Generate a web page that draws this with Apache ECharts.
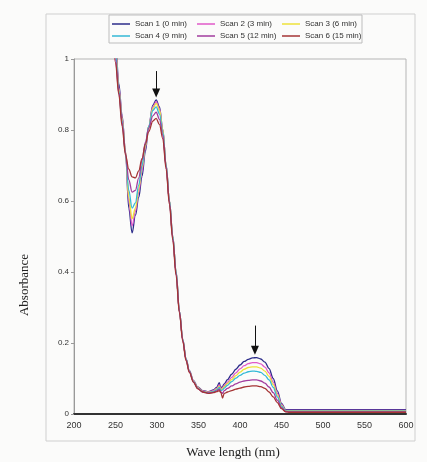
<!DOCTYPE html>
<html>
<head>
<meta charset="utf-8">
<script src="https://cdn.jsdelivr.net/npm/echarts@6/dist/echarts.min.js"></script>
<style>
html,body{margin:0;padding:0;background:#fbfbfa;}
#chart{width:427px;height:462px;}
</style>
</head>
<body>
<div id="chart"></div>
<script>
// Wavelengths (nm)
const wavelengths = [245,250,254,258,262,266,270,274,278,282,286,290,295,299,303,307,311,315,319,323,327,331,335,339,344,349,355,362,368,372,375,377,379,381,385,390,395,400,405,410,415,420,425,430,435,440,445,450,455,460,500,550,600];

const scanNames = ['Scan 1 (0 min)','Scan 2 (3 min)','Scan 3 (6 min)','Scan 4 (9 min)','Scan 5 (12 min)','Scan 6 (15 min)'];

const scan1 = [1.30,1.05,0.93,0.84,0.74,0.58,0.51,0.56,0.61,0.67,0.74,0.81,0.87,0.885,0.865,0.80,0.70,0.60,0.50,0.40,0.29,0.21,0.155,0.122,0.094,0.076,0.066,0.063,0.068,0.075,0.088,0.072,0.078,0.085,0.097,0.112,0.126,0.138,0.148,0.154,0.158,0.159,0.155,0.146,0.128,0.100,0.065,0.030,0.012,0.012,0.012,0.012,0.012];
const scan2 = [1.27,1.04,0.92,0.835,0.74,0.60,0.53,0.57,0.625,0.685,0.75,0.81,0.865,0.88,0.86,0.80,0.70,0.60,0.50,0.40,0.29,0.21,0.155,0.121,0.093,0.075,0.065,0.062,0.066,0.072,0.082,0.070,0.074,0.080,0.090,0.103,0.116,0.127,0.136,0.142,0.145,0.145,0.141,0.132,0.116,0.090,0.058,0.027,0.010,0.010,0.010,0.010,0.010];
const scan3 = [1.24,1.03,0.915,0.83,0.74,0.61,0.55,0.58,0.635,0.695,0.755,0.81,0.86,0.875,0.855,0.80,0.70,0.60,0.50,0.40,0.29,0.21,0.155,0.120,0.092,0.074,0.064,0.061,0.064,0.070,0.078,0.068,0.071,0.077,0.086,0.097,0.108,0.118,0.126,0.131,0.133,0.133,0.129,0.121,0.106,0.083,0.053,0.024,0.009,0.009,0.009,0.009,0.009];
const scan4 = [1.21,1.02,0.91,0.825,0.735,0.63,0.58,0.595,0.645,0.70,0.76,0.81,0.855,0.865,0.845,0.795,0.70,0.60,0.50,0.40,0.29,0.21,0.155,0.120,0.091,0.073,0.063,0.060,0.063,0.068,0.075,0.066,0.068,0.073,0.081,0.091,0.101,0.109,0.115,0.119,0.121,0.120,0.117,0.109,0.096,0.075,0.048,0.022,0.008,0.008,0.008,0.008,0.008];
const scan5 = [1.18,1.00,0.905,0.82,0.735,0.66,0.625,0.63,0.665,0.715,0.765,0.805,0.84,0.85,0.83,0.785,0.695,0.595,0.495,0.395,0.288,0.208,0.153,0.119,0.090,0.072,0.062,0.059,0.061,0.065,0.070,0.062,0.058,0.066,0.072,0.079,0.085,0.090,0.093,0.095,0.096,0.096,0.093,0.087,0.076,0.060,0.039,0.018,0.007,0.006,0.006,0.006,0.006];
const scan6 = [1.15,0.99,0.90,0.81,0.73,0.69,0.668,0.665,0.685,0.72,0.76,0.795,0.825,0.833,0.815,0.775,0.69,0.59,0.49,0.39,0.285,0.205,0.150,0.117,0.089,0.071,0.062,0.058,0.060,0.063,0.066,0.060,0.045,0.058,0.062,0.066,0.070,0.073,0.076,0.078,0.079,0.079,0.077,0.072,0.062,0.048,0.032,0.015,0.006,0.005,0.005,0.005,0.005];
const scans = [scan1, scan2, scan3, scan4, scan5, scan6];

const xTicks = {min:200, max:600, interval:50};
const yTicks = {min:0, max:1, interval:0.2};

// Arrow annotations [wavelength, from absorbance, to absorbance]
const arrows = [[299, 0.966, 0.893], [418, 0.249, 0.168]];

const colors = ['#2c2c8a','#e05ac8','#eee23a','#34b9d6','#a23d9e','#a53434'];

const chart = echarts.init(document.getElementById('chart'), null, {renderer:'canvas'});

const series = scans.map((s, k) => ({
  name: scanNames[k],
  type: 'line',
  data: wavelengths.map((w, i) => [w, s[i]]),
  showSymbol: false,
  symbol: 'none',
  smooth: 0.35,
  smoothMonotone: 'x',
  clip: true,
  lineStyle: {width: 1.3, color: colors[k]},
  itemStyle: {color: colors[k]},
  animation: false,
  z: 3
}));

series[0].markLine = {
  silent: true,
  animation: false,
  symbol: ['none', 'none'],
  label: {show: false},
  emphasis: {disabled: true},
  lineStyle: {color: '#111', width: 1, type: 'solid'},
  data: arrows.map(a => [{coord: [a[0], a[1]]}, {coord: [a[0], a[2] + 0.012]}])
};
series[0].markPoint = {
  silent: true,
  animation: false,
  symbol: 'triangle',
  symbolSize: [8, 9],
  symbolRotate: 180,
  symbolOffset: [0, -4],
  label: {show: false},
  itemStyle: {color: '#111'},
  data: arrows.map(a => ({coord: [a[0], a[2]]}))
};

const legendBase = {
  orient: 'vertical',
  icon: 'rect',
  itemWidth: 18,
  itemHeight: 1.5,
  itemGap: 2,
  padding: 0,
  selectedMode: false,
  top: 19,
  textStyle: {fontSize: 8, fontFamily: 'Liberation Sans, Arial, sans-serif', color: '#333', lineHeight: 10}
};

chart.setOption({
  backgroundColor: '#fbfbfa',
  animation: false,
  color: colors,
  grid: {left: 74, right: 21, top: 59, bottom: 48, show: true, borderColor: '#b5b5b5', borderWidth: 1, backgroundColor: 'transparent'},
  legend: [
    Object.assign({}, legendBase, {left: 112, data: [scanNames[0], scanNames[3]]}),
    Object.assign({}, legendBase, {left: 197, data: [scanNames[1], scanNames[4]]}),
    Object.assign({}, legendBase, {left: 282, data: [scanNames[2], scanNames[5]]})
  ],
  xAxis: {
    type: 'value', min: xTicks.min, max: xTicks.max, interval: xTicks.interval,
    axisLine: {show: true, lineStyle: {color: '#333', width: 2}},
    axisTick: {show: false},
    splitLine: {show: false},
    axisLabel: {fontSize: 9, color: '#333', margin: 7, fontFamily: 'Liberation Sans, Arial, sans-serif'}
  },
  yAxis: {
    type: 'value', min: yTicks.min, max: yTicks.max, interval: yTicks.interval,
    axisLine: {show: true, lineStyle: {color: '#999', width: 1}},
    axisTick: {show: true, inside: false, length: 3, lineStyle: {color: '#999'}},
    splitLine: {show: false},
    axisLabel: {fontSize: 8, color: '#333', margin: 5, fontFamily: 'Liberation Sans, Arial, sans-serif'}
  },
  graphic: [
    {type: 'rect', z: -1, shape: {x: 46, y: 14, width: 369, height: 427}, style: {fill: 'none', stroke: '#cfcfcf', lineWidth: 1}},
    {type: 'rect', z: 10, shape: {x: 109, y: 15, width: 253, height: 28}, style: {fill: 'none', stroke: '#bdbdbd', lineWidth: 1}},
    {type: 'text', x: 25, y: 285, rotation: Math.PI / 2, style: {text: 'Absorbance', fontSize: 13, fontFamily: 'Liberation Serif, Times New Roman, serif', fill: '#222', align: 'center', verticalAlign: 'middle'}},
    {type: 'text', x: 233, y: 453, style: {text: 'Wave length (nm)', fontSize: 13, fontFamily: 'Liberation Serif, Times New Roman, serif', fill: '#222', align: 'center', verticalAlign: 'middle'}}
  ],
  series: series
});
</script>
</body>
</html>
